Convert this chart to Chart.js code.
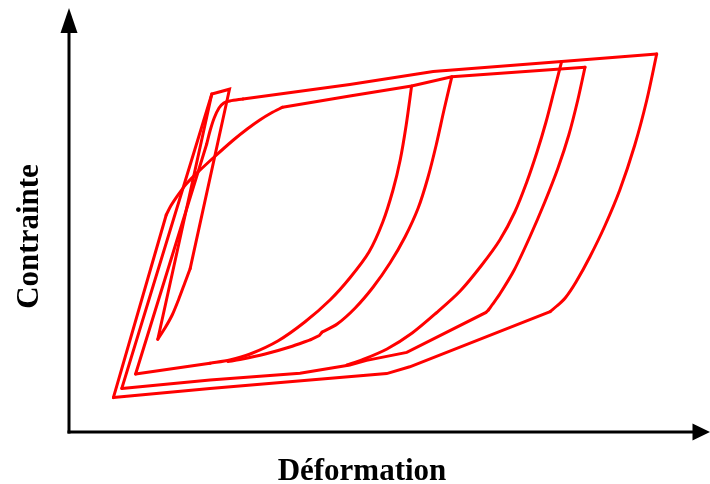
<!DOCTYPE html>
<html>
<head>
<meta charset="utf-8">
<script src="https://cdn.jsdelivr.net/npm/chart.js@4/dist/chart.umd.min.js"></script>
<style>
  html, body { margin: 0; padding: 0; background: #ffffff; }
  #wrap { width: 710px; height: 484px; }
</style>
</head>
<body>
<div id="wrap"><canvas id="c" width="710" height="484"></canvas></div>
<script>
// ---- Data (Déformation, Contrainte) in arbitrary units ----
const xAxisTitle = "Déformation";
const yAxisTitle = "Contrainte";

// straight parts
const rise1 = [[7.4,8.6],[16.2,54.25]];
const upperInner = [[35.6,81.2],[46.8,84.0],[57.1,86.5],[63.8,88.8],[86.0,91.2]];
const lowerMiddle = [[69.9,30.5],[69.5,29.9],[56.3,19.9],[49.6,17.9],[46.8,16.75],[38.5,14.7],[23.5,13.0],[8.8,10.9]];
const smallLoopRight = [[8.8,10.9],[23.8,84.5],[26.75,85.7],[20.2,40.9]];
const smallLoopLeft = [[14.8,23.2],[23.8,84.5]];
const rise3 = [[11.1,14.5],[22.95,72.0]];
const upperOuter = [[29.0,83.25],[46.8,86.9],[60.7,90.1],[82.1,92.6],[97.95,94.5]];
const lowerOuter = [[80.2,30.1],[56.8,16.3],[52.95,14.6],[23.5,10.9],[7.4,8.6]];
const lowerInner = [[23.5,17.2],[11.1,14.5]];
const kinkR = [[42.2,25.0],[41.7,24.1],[40.3,23.1]];

// curved parts
const bend1 = [[16.2,54.25],[17.0,56.6],[17.95,58.8],[19.5,61.9],[21.3,64.7],[24.2,68.75],[27.4,73.0],[29.7,75.75],[31.8,78.0],[33.7,79.75],[35.6,81.2]];
const unloadInner = [[86.0,91.2],[84.8,83.0],[83.3,74.25],[81.5,66.0],[79.3,57.5],[76.8,48.75],[74.2,40.5],[71.8,34.5],[70.5,31.75],[69.9,30.5]];
const smallLoopBottom = [[20.2,40.9],[19.3,37.25],[18.3,33.25],[17.2,29.25],[16.0,26.0],[14.8,23.2]];
const bend3 = [[22.95,72.0],[23.5,75.25],[24.2,78.5],[25.0,81.0],[25.8,82.25],[26.8,82.75],[29.0,83.25]];
const unloadOuter = [[97.95,94.5],[96.3,83.0],[94.3,71.75],[91.8,60.5],[89.3,51.5],[86.8,43.75],[84.5,37.5],[82.7,33.5],[81.3,31.5],[80.2,30.1]];
const unloadP = [[57.1,86.5],[56.2,76.75],[55.2,68.0],[54.0,60.5],[52.3,52.5],[50.0,45.0],[46.8,38.5],[43.5,33.0],[39.3,27.5],[34.8,22.75],[30.2,19.5],[26.8,18.0],[23.5,17.2]];
const unloadR = [[63.8,88.8],[62.5,80.5],[61.2,71.75],[59.8,63.5],[58.2,56.0],[56.0,48.75],[53.5,42.25],[50.7,36.25],[47.7,31.0],[44.7,27.0],[42.2,25.0]];
const unloadRTail = [[40.3,23.1],[36.8,21.25],[32.7,19.5],[28.5,18.1],[26.5,17.6]];
const unloadQ = [[82.1,92.6],[80.8,85.0],[79.5,77.5],[78.0,70.0],[76.3,62.5],[74.3,55.0],[71.8,48.0],[68.8,41.75],[65.2,35.25],[61.2,29.75],[57.2,24.75],[53.0,20.75],[48.8,18.0],[46.3,16.75]];

const straightParts = [rise1, upperInner, lowerMiddle, smallLoopRight, smallLoopLeft, rise3, upperOuter, lowerOuter, lowerInner, kinkR];
const curvedParts = [bend1, unloadInner, smallLoopBottom, bend3, unloadOuter, unloadP, unloadR, unloadRTail, unloadQ];

const xMax = 106.5, yMax = 106;

function mk(arr, tension) {
  return {
    data: arr.map(p => ({x: p[0], y: p[1]})),
    showLine: true,
    borderColor: '#ff0000',
    borderWidth: 3,
    pointRadius: 0,
    pointHoverRadius: 0,
    tension: tension,
    borderCapStyle: 'round',
    borderJoinStyle: 'miter',
    clip: false,
    fill: false
  };
}
const datasets = straightParts.map(a => mk(a, 0)).concat(curvedParts.map(a => mk(a, 0.3)));

const axesPlugin = {
  id: 'arrowAxes',
  afterDraw(chart) {
    const ctx = chart.ctx;
    const xs = chart.scales.x, ys = chart.scales.y;
    const x0 = xs.getPixelForValue(0), y0 = ys.getPixelForValue(0);
    const topY = ys.getPixelForValue(yMax);
    const rightX = chart.width;
    ctx.save();
    ctx.strokeStyle = '#000'; ctx.fillStyle = '#000'; ctx.lineWidth = 3;
    // y axis
    ctx.beginPath();
    ctx.moveTo(x0, y0 + 1.5); ctx.lineTo(x0, topY + 22); ctx.stroke();
    ctx.beginPath();
    ctx.moveTo(x0, topY); ctx.lineTo(x0 - 8.5, topY + 25); ctx.lineTo(x0 + 8.5, topY + 25); ctx.closePath(); ctx.fill();
    // x axis
    ctx.beginPath();
    ctx.moveTo(x0 - 1.5, y0); ctx.lineTo(rightX - 14, y0); ctx.stroke();
    ctx.beginPath();
    ctx.moveTo(rightX, y0); ctx.lineTo(rightX - 17.5, y0 - 8.5); ctx.lineTo(rightX - 17.5, y0 + 8.5); ctx.closePath(); ctx.fill();
    // titles
    ctx.font = 'bold 31px "Liberation Serif", "Times New Roman", serif';
    ctx.textAlign = 'center';
    ctx.textBaseline = 'alphabetic';
    ctx.fillText(xAxisTitle, 362, 480);
    ctx.translate(38, 236.5);
    ctx.rotate(-Math.PI / 2);
    ctx.fillText(yAxisTitle, 0, 0);
    ctx.restore();
  }
};

new Chart(document.getElementById('c'), {
  type: 'scatter',
  data: { datasets },
  options: {
    responsive: false,
    animation: false,
    devicePixelRatio: 1,
    layout: { padding: { left: 69, right: 2, top: 8, bottom: 52 } },
    plugins: { legend: { display: false }, tooltip: { enabled: false } },
    scales: {
      x: { type: 'linear', min: 0, max: xMax, display: false },
      y: { type: 'linear', min: 0, max: yMax, display: false }
    }
  },
  plugins: [axesPlugin]
});
</script>
</body>
</html>
